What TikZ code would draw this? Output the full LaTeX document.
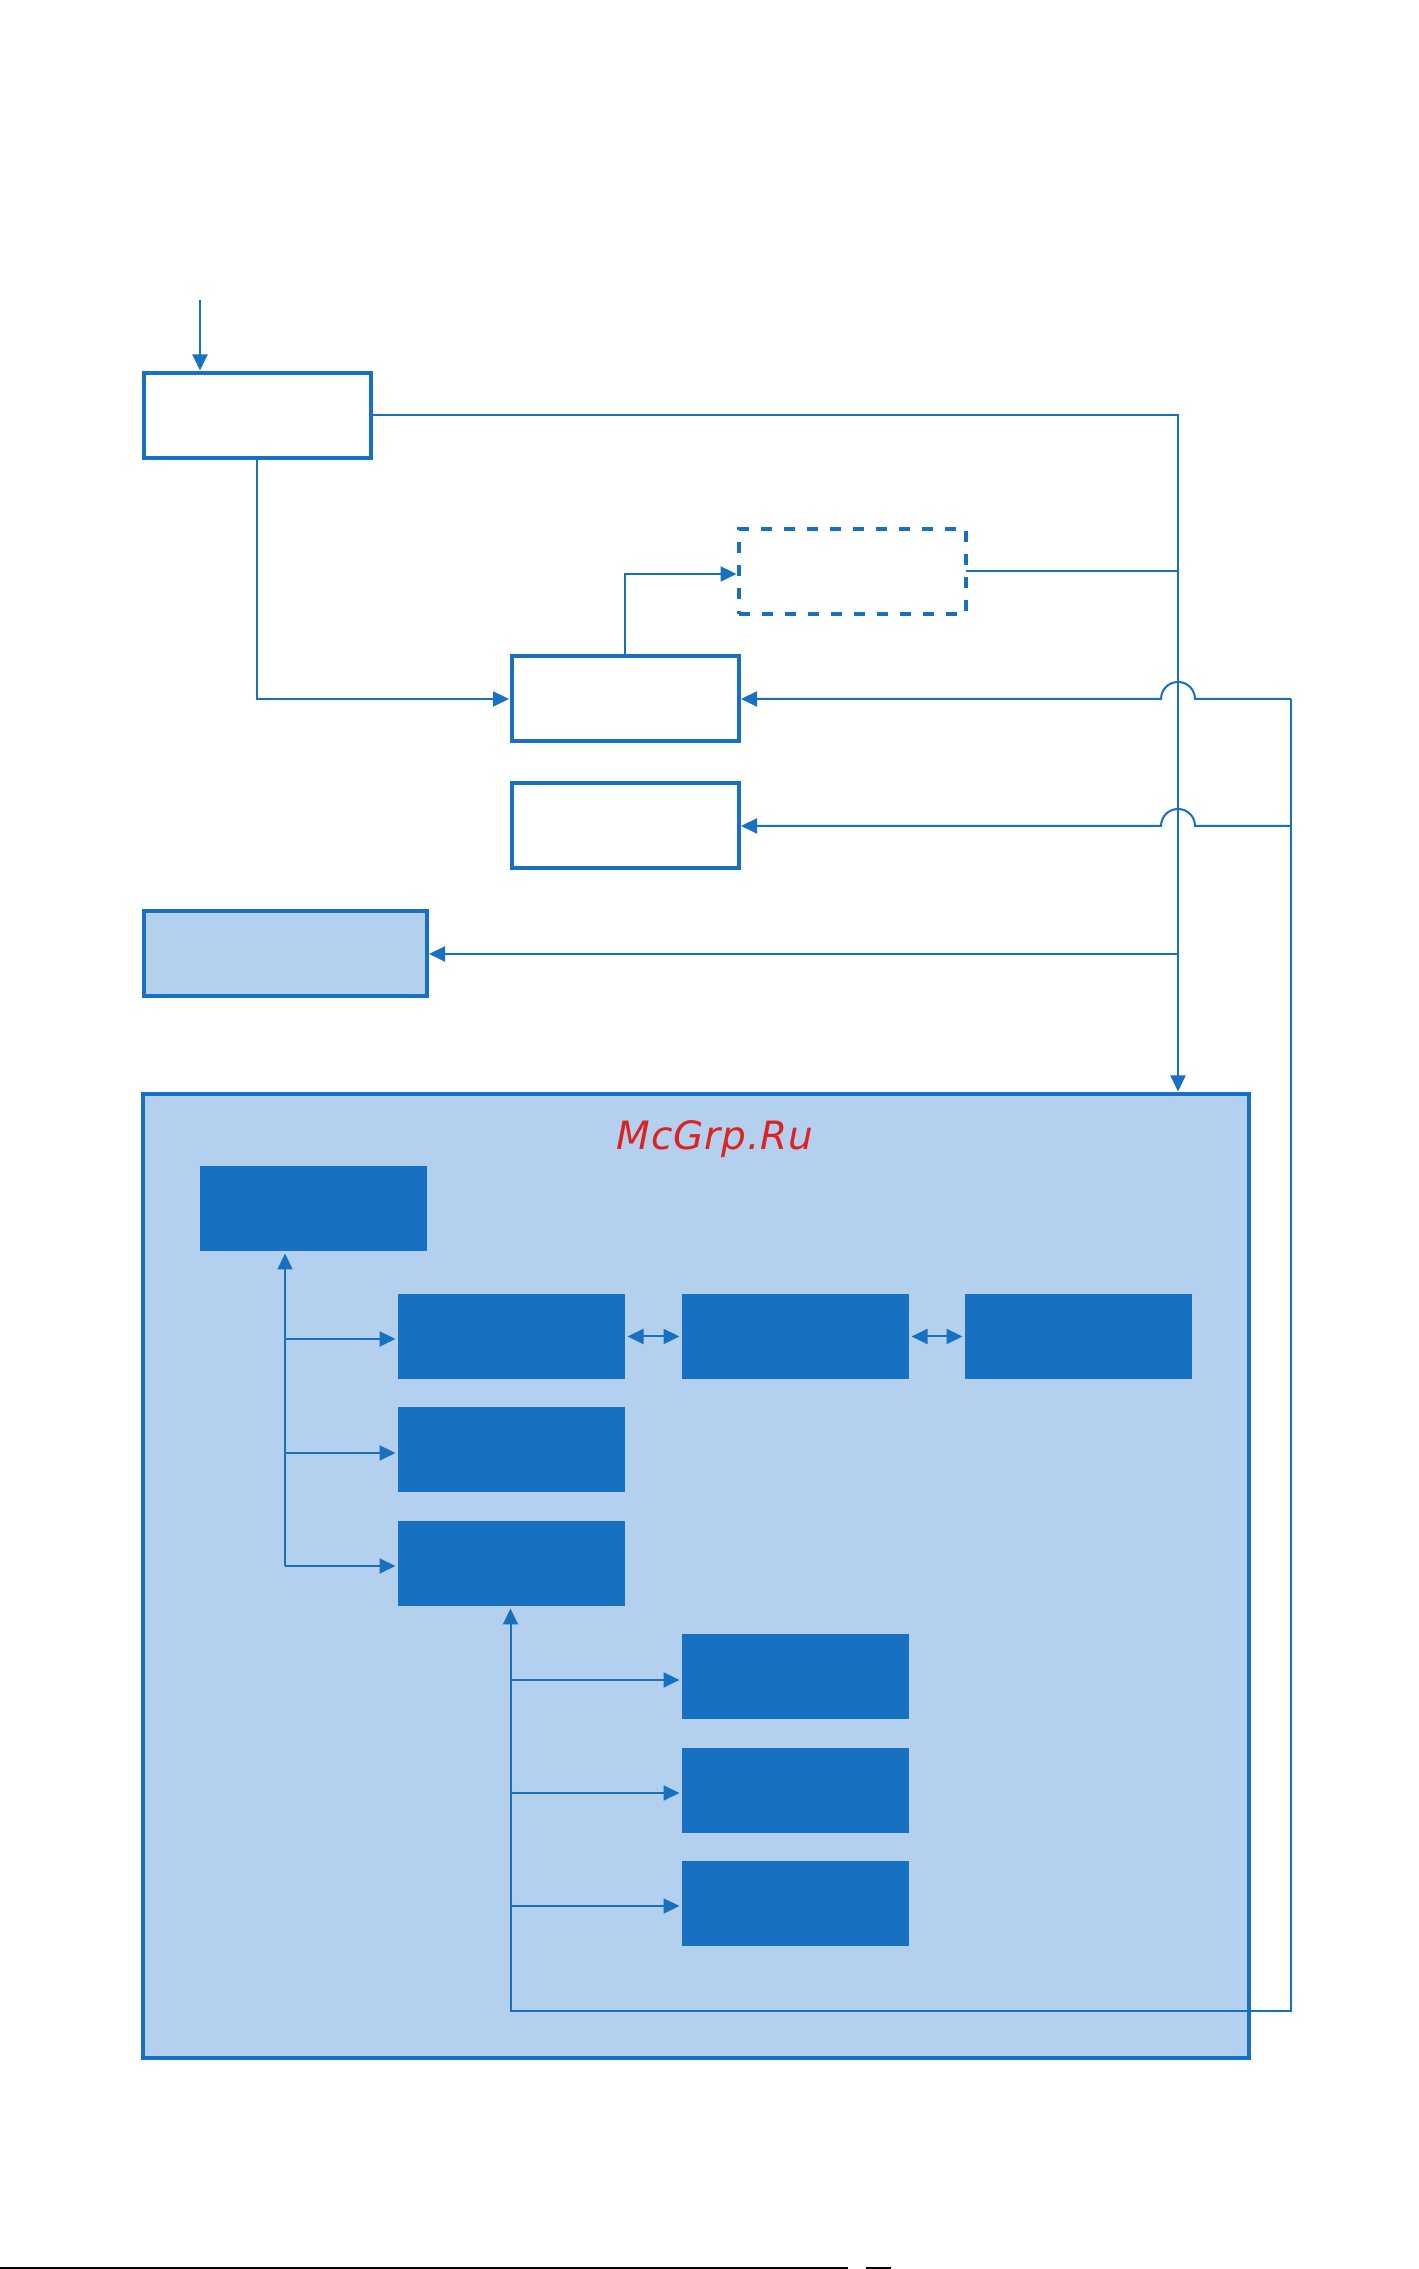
\documentclass[tikz,border=0pt]{standalone}
\usepackage{fontspec}
\usetikzlibrary{arrows.meta}
\newfontfamily\markfont[LetterSpace=2.2]{DejaVu Sans}

\definecolor{DeepBlue}{HTML}{1770C0}
\definecolor{PaleBlue}{HTML}{B3D0EE}
\definecolor{MarkRed}{HTML}{DD2222}

\tikzset{
  framebox/.style={draw=DeepBlue, line width=0.08cm, fill=white, minimum width=4.54cm, minimum height=1.70cm, inner sep=0pt, outer sep=0pt},
  dashbox/.style={framebox, dash pattern=on 0.22cm off 0.24cm},
  palebox/.style={framebox, fill=PaleBlue},
  solidbox/.style={fill=DeepBlue, minimum width=4.54cm, minimum height=1.70cm, inner sep=0pt, outer sep=0pt},
  wire/.style={draw=DeepBlue, line width=0.04cm},
  flow/.style={wire, -{Triangle[length=0.32cm,width=0.30cm]}, shorten >=0.05cm},
  dualflow/.style={wire, {Triangle[length=0.32cm,width=0.30cm]}-{Triangle[length=0.32cm,width=0.30cm]}, shorten >=0.05cm, shorten <=0.05cm}
}

\begin{document}
\begin{tikzpicture}

\useasboundingbox (0,0) rectangle (28.36,45.38);

\node[palebox, minimum width=22.12cm, minimum height=19.28cm] (OuterBox) at (13.92,13.86) {};
\node[anchor=base, text=MarkRed] (MarkText) at (14.30,22.38) {\markfont\itshape\fontsize{22.2}{26}\selectfont McGrp.Ru};

\node[framebox] (TopBox) at (5.14,37.07) {};
\node[dashbox] (DashBox) at (17.04,33.95) {};
\node[framebox] (MidBox) at (12.50,31.40) {};
\node[framebox] (LowBox) at (12.50,28.86) {};
\node[palebox, minimum width=5.66cm] (PaleBox) at (5.70,26.30) {};

\node[solidbox] (SolidTop) at (6.27,21.21) {};
\node[solidbox] (SolidA) at (10.23,18.65) {};
\node[solidbox] (SolidB) at (15.91,18.65) {};
\node[solidbox] (SolidC) at (21.57,18.65) {};
\node[solidbox] (SolidD) at (10.23,16.39) {};
\node[solidbox] (SolidE) at (10.23,14.11) {};
\node[solidbox] (SolidF) at (15.91,11.85) {};
\node[solidbox] (SolidG) at (15.91,9.57) {};
\node[solidbox] (SolidH) at (15.91,7.31) {};

\coordinate (Start) at (4.00,39.38);
\coordinate (Bus) at (23.56,37.07);
\coordinate (DashIn) at (14.78,33.90);
\coordinate (RightTop) at (25.82,31.40);
\coordinate (RightMid) at (25.82,28.86);
\coordinate (Corner) at (25.82,5.16);
\coordinate (JumpA) at (23.90,31.40);
\coordinate (JumpB) at (23.90,28.86);
\coordinate (TrunkA) at (5.70,18.60);
\coordinate (TrunkB) at (5.70,16.32);
\coordinate (TrunkC) at (5.70,14.06);
\coordinate (StemA) at (10.21,11.78);
\coordinate (StemB) at (10.21,9.52);
\coordinate (StemC) at (10.21,7.26);

\draw[flow] (Start) -- (Start |- TopBox.north);
\draw[flow] (TopBox.east) -- (Bus) -- (Bus |- OuterBox.north);
\draw[flow] (TopBox.south) |- (MidBox.west);
\draw[flow] (MidBox.north) |- (DashIn);
\draw[wire] (DashBox.east) -- (Bus |- DashBox.east);
\draw[flow] (Bus |- PaleBox.east) -- (PaleBox.east);

\draw[flow] (RightTop) -- (Corner) -- (Corner -| StemA) -- (StemA |- SolidE.south);
\draw[flow] (RightTop) -- (JumpA) arc[start angle=0, end angle=180, radius=0.34] -- (MidBox.east);
\draw[flow] (RightMid) -- (JumpB) arc[start angle=0, end angle=180, radius=0.34] -- (LowBox.east);

\draw[flow] (TrunkC) -- (TrunkC |- SolidTop.south);
\draw[flow] (TrunkA) -- (TrunkA -| SolidA.west);
\draw[flow] (TrunkB) -- (TrunkB -| SolidD.west);
\draw[flow] (TrunkC) -- (TrunkC -| SolidE.west);

\draw[dualflow] (SolidA.east) -- (SolidB.west);
\draw[dualflow] (SolidB.east) -- (SolidC.west);

\draw[flow] (StemA) -- (StemA -| SolidF.west);
\draw[flow] (StemB) -- (StemB -| SolidG.west);
\draw[flow] (StemC) -- (StemC -| SolidH.west);

% edge of the scanned page
\draw[black, line width=0.04cm] (0,0.02) -- (16.96,0.02);
\draw[black, line width=0.04cm] (17.32,0.02) -- (17.82,0.02);

\end{tikzpicture}
\end{document}
